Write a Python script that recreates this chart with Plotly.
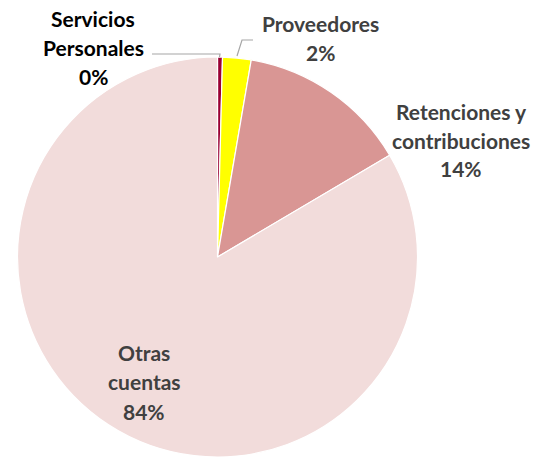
import plotly.graph_objects as go

W, H = 551, 459

categories = ["Servicios Personales", "Proveedores", "Retenciones y contribuciones", "Otras cuentas"]
values = [0.4, 2.3, 13.8, 83.5]
colors = ["#990033", "#FFFF00", "#D99694", "#F2DCDB"]

# label lines per category (text broken as in the reference)
label_lines = [["Servicios", "Personales"], ["Proveedores"], ["Retenciones y", "contribuciones"], ["Otras", "cuentas"]]
label_colors = ["#000000", "#404040", "#404040", "#404040"]

def px(x):
    return x / W

def py(y):
    return 1 - y / H

fig = go.Figure(go.Pie(
    labels=categories,
    values=values,
    sort=False,
    direction="clockwise",
    rotation=0,
    marker=dict(colors=colors, line=dict(color="white", width=1.2)),
    textinfo="none",
    hoverinfo="label+percent",
    domain=dict(x=[px(17), px(418)], y=[py(457), py(57)]),
    showlegend=False,
))

total = sum(values)
pcts = [f"{round(v / total * 100):d}%" for v in values]

# label placement (centre x, first line y, line step)
placements = [(93, 18.5, 29), (320, 23.5, 29), (461, 111, 29), (144, 352, 29.5)]

annotations = []
for lines, pct, col, (cx, y0, step) in zip(label_lines, pcts, label_colors, placements):
    for i, t in enumerate(lines + [pct]):
        annotations.append(dict(
            x=px(cx), y=py(y0 + i * step), xref="paper", yref="paper",
            text=f"<b>{t}</b>", showarrow=False, xanchor="center", yanchor="middle",
            font=dict(family="Lato", size=21, color=col),
        ))

shapes = [
    dict(type="path", xref="paper", yref="paper",
         path=f"M {px(152)} {py(54)} L {px(220)} {py(54)} L {px(219.5)} {py(57)}",
         line=dict(color="#A6A6A6", width=1.2)),
    dict(type="path", xref="paper", yref="paper",
         path=f"M {px(237)} {py(56)} L {px(242)} {py(40)} L {px(253)} {py(40)}",
         line=dict(color="#A6A6A6", width=1.2)),
]

fig.update_layout(
    width=W, height=H,
    margin=dict(l=0, r=0, t=0, b=0),
    paper_bgcolor="white",
    plot_bgcolor="white",
    annotations=annotations,
    shapes=shapes,
)

fig.write_html(
    "out.html",
    config={"displayModeBar": False},
    post_script="document.body.style.margin='0';document.body.style.overflow='hidden';",
)
